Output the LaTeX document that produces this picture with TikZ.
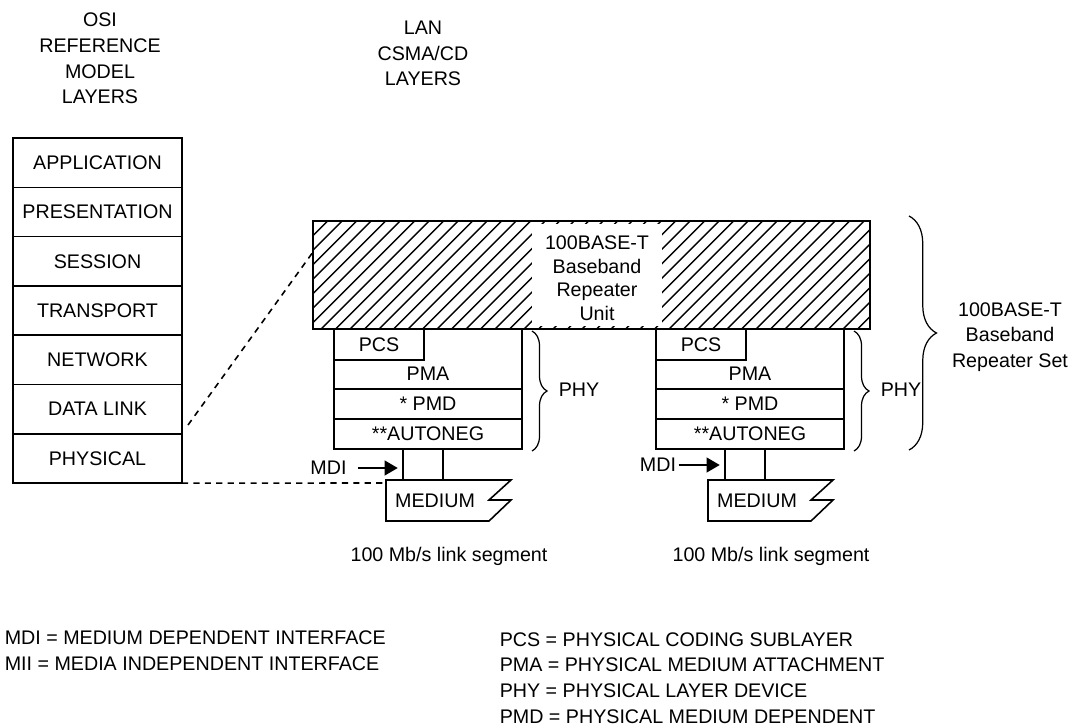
\documentclass[tikz,border=0pt]{standalone}
\usepackage{fontspec}
\setmainfont{Liberation Sans}
\usetikzlibrary{arrows.meta, positioning, decorations.pathreplacing}
\newcommand{\layfont}{\fontsize{11.2pt}{14.6pt}\selectfont}
\tikzset{
  box/.style={draw, inner sep=0pt, outer sep=0pt},
  osilayer/.style={box, minimum width=3.38cm, minimum height=0.986cm},
  hatch/.style={line width=0.8pt},
  linkdash/.style={line width=0.9pt, dash pattern=on 3.5pt off 3pt},
  mdiarrow/.style={line width=0.9pt, -{Triangle[length=7.5pt, width=8.5pt]}},
  phybrace/.style={decorate, decoration={brace, amplitude=#1}, line width=0.7pt},
}
\begin{document}
\begin{tikzpicture}[x=0.02cm, y=-0.02cm, font=\layfont, line width=0.9pt]
  \useasboundingbox (0,0) rectangle (1077,727);

  % Headings
  \node[align=center] (osiHead) at (100,58.5) {OSI\\REFERENCE\\MODEL\\LAYERS};
  \node[align=center] (lanHead) at (423,53.5) {LAN\\CSMA/CD\\LAYERS};

  % OSI stack
  \foreach \nm/\txt [count=\i from 0] in {app/APPLICATION, pres/PRESENTATION,
      sess/SESSION, trans/TRANSPORT, net/NETWORK, dlink/DATA LINK, phys/PHYSICAL}
    \node[osilayer] (\nm) at (97.5,{162.65+49.3*\i}) {\txt};

  % Dashed links to the OSI stack
  \coordinate (dlOut) at (188,425);
  \coordinate (rpuIn) at (313,252);
  \coordinate (medIn) at (384,483);
  \draw[linkdash] (dlOut) -- (rpuIn);
  \draw[linkdash] (phys.south east) -- (medIn);

  % Repeater unit (hatched)
  \begin{scope}
    \clip (313,221) rectangle (870,329);
    \foreach \k in {0,...,46}
      \draw[hatch] ({205+14.5*\k},329) -- ++(108,-108);
  \end{scope}
  \fill[white] (532,224) rectangle (662,326);
  \node[align=center, font={\fontsize{11.2pt}{13.4pt}\selectfont}] (rpuText) at (597,278)
    {100BASE-T\\Baseband\\Repeater\\Unit};
  \node[box, minimum width=11.14cm, minimum height=2.16cm] (rpu) at (591.5,275) {};

  % PHY stacks
  \foreach \dx/\nm in {0/A, 322/B} {
    \node[box, minimum width=3.76cm, minimum height=2.4cm] (phy\nm) at ({428+\dx},389) {};
    \node[box, minimum width=1.8cm, minimum height=0.62cm] (pcs\nm) at ({379+\dx},344.5) {PCS};
    \node (pma\nm) at ({428+\dx},374) {PMA};
    \node[box, minimum width=3.76cm, minimum height=0.6cm] (pmd\nm) at ({428+\dx},404) {* PMD};
    \node[box, minimum width=3.76cm, minimum height=0.6cm] (aneg\nm) at ({428+\dx},434) {**AUTONEG};
    \node[box, minimum width=0.8cm, minimum height=0.62cm] (mdi\nm) at ({423+\dx},464.5) {};
    \draw ({386+\dx},480) -- ++(125,0) -- ++(-22,20) -- ++(22,0) -- ++(-22,21)
      -- ({386+\dx},521) -- cycle;
    \node (med\nm) at ({435+\dx},501) {MEDIUM};
    \node (seg\nm) at ({449+\dx},556) {100 Mb/s link segment};
    \draw[phybrace=0.3cm] ({532+\dx},331) -- ({532+\dx},451);
    \node[anchor=west, inner sep=0pt] (phyLbl\nm) at ({558+\dx},390) {PHY};
  }

  % MDI labels
  \node[inner sep=0pt] (mdiLblA) at (328.5,468) {MDI};
  \node[inner sep=0pt] (mdiLblB) at (658,465) {MDI};
  \draw[mdiarrow, shorten <=6pt, shorten >=3pt] (mdiLblA.east) -- (mdiLblA.east -| mdiA.west);
  \draw[mdiarrow, shorten <=1pt, shorten >=3pt] (mdiLblB.east) -- (mdiLblB.east -| mdiB.west);

  % Repeater set
  \draw[phybrace=0.55cm] (909,216) -- (909,450);
  \node[align=center] (rsetLbl) at (1010,337) {100BASE-T\\Baseband\\Repeater Set};

  % Legend
  \node[anchor=west, align=left, inner sep=0pt] (legL) at (4,651)
    {MDI = MEDIUM DEPENDENT INTERFACE\\MII = MEDIA INDEPENDENT INTERFACE};
  \node[anchor=west, align=left, inner sep=0pt] (legR) at (499,678)
    {PCS = PHYSICAL CODING SUBLAYER\\PMA = PHYSICAL MEDIUM ATTACHMENT\\
     PHY = PHYSICAL LAYER DEVICE\\PMD = PHYSICAL MEDIUM DEPENDENT};
\end{tikzpicture}
\end{document}
